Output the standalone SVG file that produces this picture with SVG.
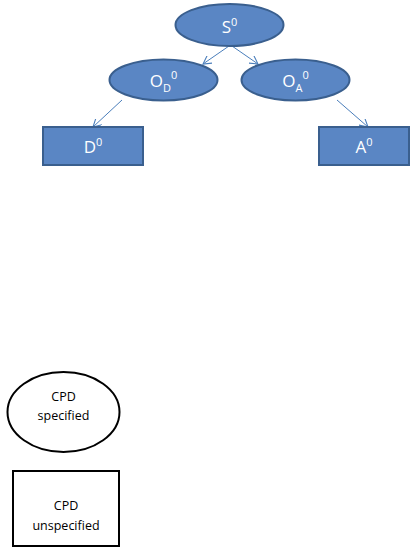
<svg xmlns="http://www.w3.org/2000/svg" width="410" height="547" viewBox="0 0 410 547">
  <defs>
    <marker id="arr" viewBox="0 0 10 10" refX="9" refY="5" markerWidth="9" markerHeight="9" markerUnits="userSpaceOnUse" orient="auto">
      <path d="M0,0 L9,5 L0,10" fill="none" stroke="#4a7ebb" stroke-width="1.2"/>
    </marker>
    <style>
      .node { fill: #5a86c4; stroke: #3a5f8e; stroke-width: 2; }
      .lbl { font-family: "Open Sans", "Liberation Sans", sans-serif; font-size: 17px; fill: #ffffff; text-anchor: middle; }
      .sup { font-size: 11px; }
      .edge { stroke: #4a7ebb; stroke-width: 1; fill: none; marker-end: url(#arr); }
      .key { fill: #ffffff; stroke: #000000; stroke-width: 2; }
      .keytxt { font-family: "Open Sans", "Liberation Sans", sans-serif; font-size: 12.5px; fill: #000000; text-anchor: middle; }
    </style>
  </defs>

  <g id="connectors">
    <line class="edge" x1="229" y1="46" x2="203" y2="64"/>
    <line class="edge" x1="232" y1="46" x2="258" y2="64"/>
    <line class="edge" x1="122" y1="100" x2="93" y2="127"/>
    <line class="edge" x1="337" y1="100" x2="368" y2="127"/>
  </g>

  <g id="S0">
    <ellipse class="node" cx="229.5" cy="25" rx="54" ry="21"/>
    <text class="lbl" x="229.5" y="33">S<tspan class="sup" dy="-7">0</tspan></text>
  </g>

  <g id="OD0">
    <ellipse class="node" cx="163.5" cy="80" rx="54" ry="20.5"/>
    <text class="lbl" x="163.5" y="87">O<tspan class="sup" dy="5">D</tspan><tspan class="sup" dy="-13">0</tspan></text>
  </g>

  <g id="OA0">
    <ellipse class="node" cx="295.5" cy="80" rx="54" ry="20.5"/>
    <text class="lbl" x="295.5" y="87">O<tspan class="sup" dy="5">A</tspan><tspan class="sup" dy="-13">0</tspan></text>
  </g>

  <g id="D0">
    <rect class="node" x="43" y="127" width="100" height="38"/>
    <text class="lbl" x="93" y="153">D<tspan class="sup" dy="-7">0</tspan></text>
  </g>

  <g id="A0">
    <rect class="node" x="319" y="127" width="90" height="38"/>
    <text class="lbl" x="364" y="153">A<tspan class="sup" dy="-7">0</tspan></text>
  </g>

  <g id="legend-specified">
    <ellipse class="key" cx="63.5" cy="412" rx="56" ry="40"/>
    <text class="keytxt" x="63.5" y="401">CPD</text>
    <text class="keytxt" x="63.5" y="420">specified</text>
  </g>

  <g id="legend-unspecified">
    <rect class="key" x="13" y="471" width="106" height="75"/>
    <text class="keytxt" x="66" y="510">CPD</text>
    <text class="keytxt" x="66" y="530">unspecified</text>
  </g>
</svg>
